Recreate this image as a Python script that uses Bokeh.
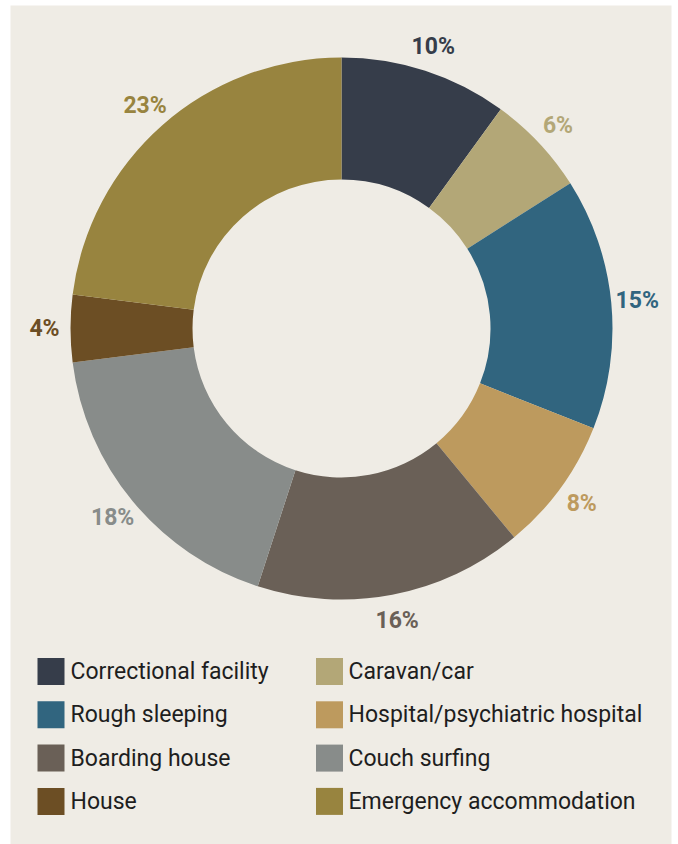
import numpy as np
from bokeh.plotting import figure
from bokeh.models import Range1d, ColumnDataSource
from bokeh.core.properties import value
from bokeh.embed import file_html
from bokeh.resources import INLINE

categories = ["Correctional facility", "Caravan/car", "Rough sleeping",
              "Hospital/psychiatric hospital", "Boarding house", "Couch surfing",
              "House", "Emergency accommodation"]
shares = [10, 6, 15, 8, 16, 18, 4, 23]
colors = ["#363D4A", "#B3A777", "#31657F", "#BD9A5E", "#6A6057", "#888C8A",
          "#6C4E24", "#98843F"]
labels = [f"{s}%" for s in shares]

FW, FH = 661, 839
BG = "#EFECE5"

p = figure(width=678, height=844, output_backend="svg", toolbar_location=None,
           x_range=Range1d(0, FW), y_range=Range1d(0, FH),
           min_border_left=10, min_border_right=7, min_border_top=5, min_border_bottom=0,
           background_fill_color=BG, border_fill_color="white",
           outline_line_color=None)
p.axis.visible = False
p.grid.visible = False

cx, cy = 331, 516
r_out, r_in, r_lab = 271, 149, 297

vals = np.array(shares, dtype=float)
frac = vals / vals.sum()
cum = np.concatenate([[0], np.cumsum(frac)])
start = np.pi / 2 - cum[:-1] * 2 * np.pi
end = np.pi / 2 - cum[1:] * 2 * np.pi
mid = (start + end) / 2

src = ColumnDataSource(dict(start=start, end=end, color=colors,
                            lx=cx + r_lab * np.cos(mid), ly=cy + r_lab * np.sin(mid),
                            label=labels))
p.annular_wedge(x=cx, y=cy, inner_radius=r_in, outer_radius=r_out,
                start_angle="start", end_angle="end", direction="clock",
                fill_color="color", line_color=None, source=src)
p.text(x="lx", y="ly", text="label", text_color="color", source=src,
       text_font=value("Roboto"), text_font_style="bold", text_font_size="23px",
       text_align="center", text_baseline="middle")

# legend (two columns, row-wise)
idx = np.arange(len(categories))
col = idx % 2
row = idx // 2
sq_x = np.where(col == 0, 40.5, 319)
tx = np.where(col == 0, 60, 338)
ly = 173 - row * 43.3
leg = ColumnDataSource(dict(sx=sq_x, tx=tx, y=ly, color=colors, name=categories))
p.rect(x="sx", y="y", width=27, height=27, fill_color="color", line_color=None, source=leg)
p.text(x="tx", y="y", text="name", source=leg, text_color="#1E1E1E",
       text_font=value("Roboto"), text_font_size="23px", text_baseline="middle",
       text_align="left")

open("out.html", "w").write(file_html(p, INLINE))
